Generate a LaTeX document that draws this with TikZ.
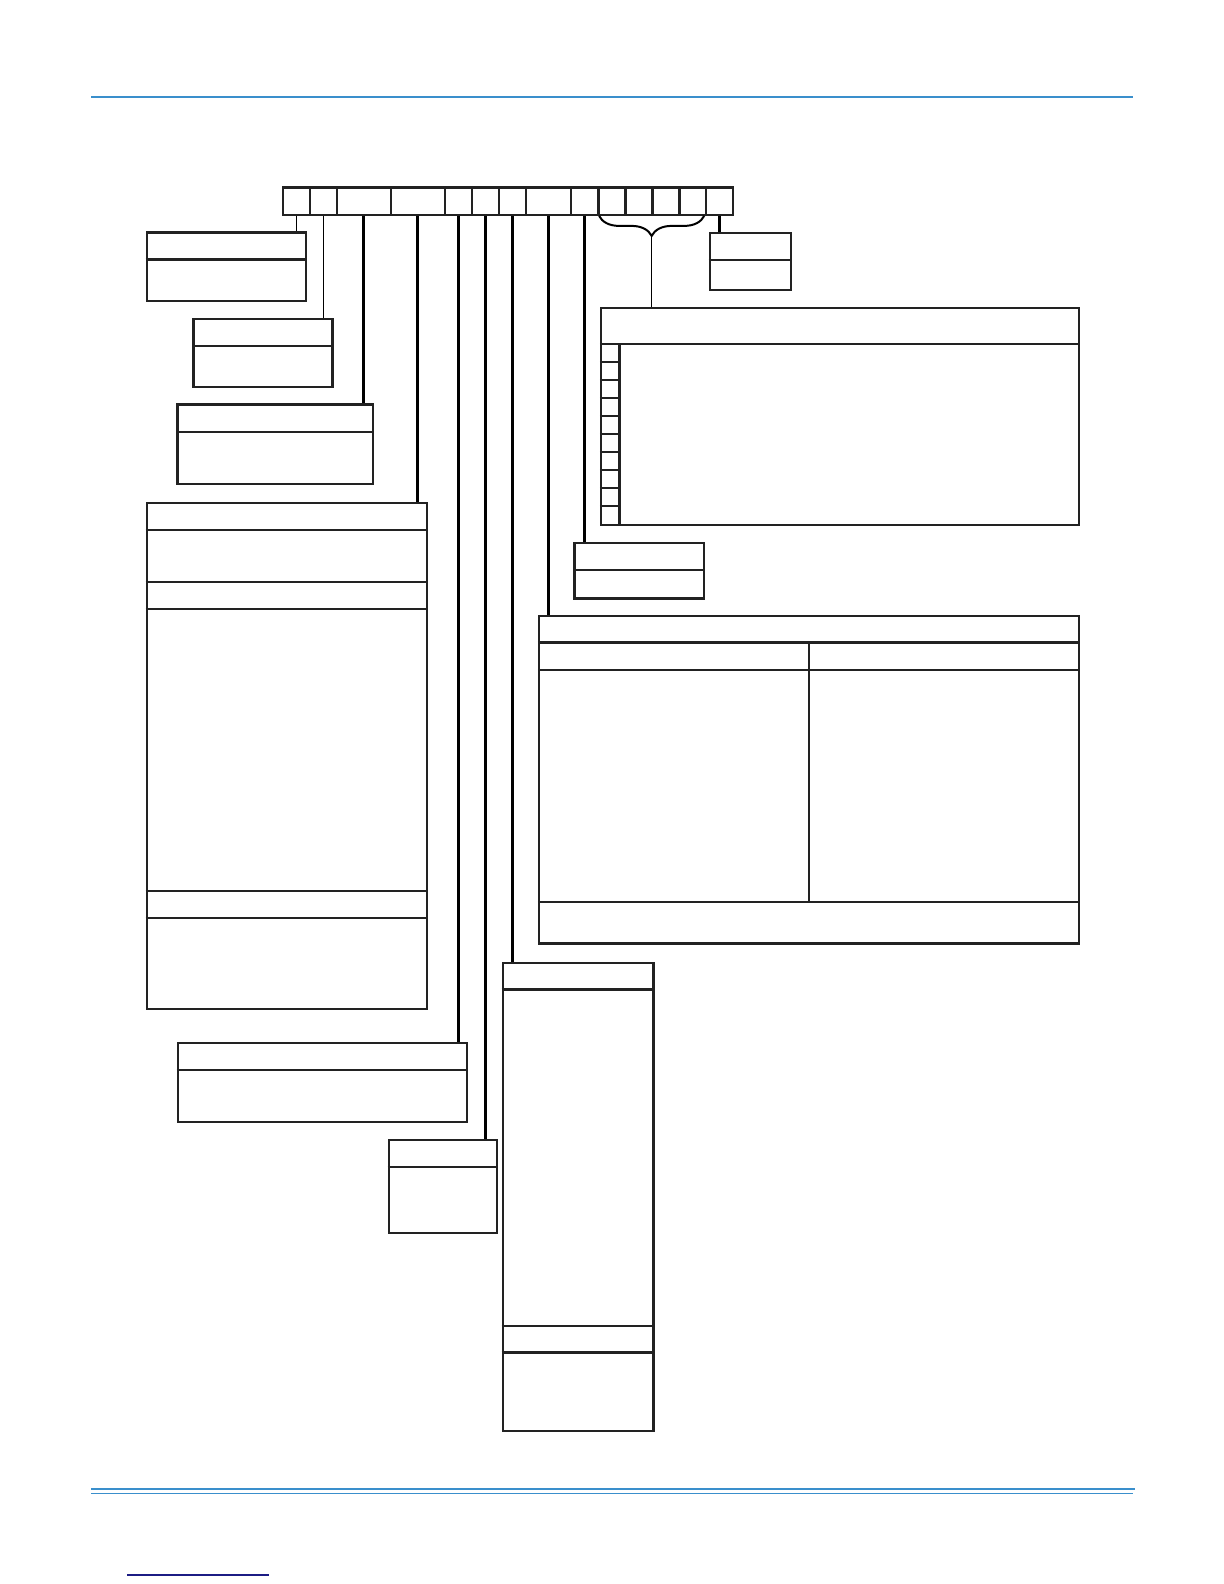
\documentclass[tikz,border=0pt]{standalone}
\usetikzlibrary{fit,calc,decorations.pathreplacing}
\definecolor{rulecol}{HTML}{3A8FCC}
\definecolor{linkcol}{HTML}{1C1C84}
\definecolor{inkcol}{HTML}{222222}
\tikzset{
	box/.style={draw=inkcol, line width=1.2pt, inner sep=0pt},
	cell/.style={draw=inkcol, line width=1.2pt, inner sep=0pt},
	divline/.style={draw=inkcol, line width=1.2pt},
	lead/.style={draw=black, line width=1.5pt},
	thinlead/.style={draw=black, line width=0.8pt}
}
\newcommand{\hdiv}[2]{\draw[divline] (#1.west |- 0,#2) -- (#1.east |- 0,#2);}
\begin{document}
\begin{tikzpicture}[x=0.5pt,y=-0.5pt]
		\useasboundingbox (0,0) rectangle (1224,1584);
		%page rules
		\draw[rulecol, line width=0.75pt] (91,97) -- (1133,97);
		\draw[rulecol, line width=1pt] (91,1488.5) -- (1135,1488.5);
		\draw[rulecol, line width=0.5pt] (91,1493.5) -- (1133,1493.5);
		\draw[linkcol, line width=0.6pt] (127,1575) -- (269,1575);
		%code cells
		\foreach \a/\b [count=\i] in {282.7/310,310/336.7,336.7/390.7,390.7/445,
			445/471.7,471.7/499,499/526,526/571,571/598.3,598.3/625.3,
			625.3/652.3,652.3/679.3,679.3/706,706/732.7}
		\node[cell, fit={(\a,187.3) (\b,214.7)}] (c\i) {};
		%boxes
		\node[box, fit={(146.7,232.3) (305.7,300.7)}] (bA) {};
		\hdiv{bA}{259.3}
		\node[box, fit={(193.3,318.7) (332.3,386.7)}] (bB) {};
		\hdiv{bB}{346}
		\node[box, fit={(177.3,404.3) (373,484)}] (bC) {};
		\hdiv{bC}{431.7}
		\node[box, fit={(146.7,502.7) (426.7,1009)}] (bD) {};
		\foreach \y in {530,582,608.7,891,917.7}
		\hdiv{bD}{\y}
		\node[box, fit={(177.8,1043) (466.7,1122)}] (bE) {};
		\hdiv{bE}{1070}
		\node[box, fit={(388.7,1140) (497,1232.7)}] (bF) {};
		\hdiv{bF}{1166.7}
		\node[box, fit={(502.7,962.7) (653.3,1431)}] (bG) {};
		\foreach \y in {989.3,1325.7,1352.3}
		\hdiv{bG}{\y}
		\node[box, fit={(539,616) (1078.7,943.5)}] (bH) {};
		\foreach \y in {642.5,669.8,902}
		\hdiv{bH}{\y}
		\draw[divline] (809,642.5) -- (809,902);
		\node[box, fit={(574.3,542.7) (704,598.3)}] (bI) {};
		\hdiv{bI}{570}
		\node[box, fit={(601,308) (1078.7,524.7)}] (bJ) {};
		\hdiv{bJ}{343.7}
		\draw[divline] (619.3,343.7) -- (619.3,524.7);
		\foreach \y in {361.7,380,398,416,434,452,470,488,506}
		\draw[divline] (bJ.west |- 0,\y) -- (619.3,\y);
		\node[box, fit={(709.7,232.7) (791,290)}] (bK) {};
		\hdiv{bK}{260}
		%leads
		\draw[thinlead] (c1.south) -- (c1.south |- bA.north);
		\draw[thinlead] (c2.south) -- (c2.south |- bB.north);
		\draw[lead] (c3.south) -- (c3.south |- bC.north);
		\draw[lead] (c4.south) -- (c4.south |- bD.north);
		\draw[lead] (c5.south) -- (c5.south |- bE.north);
		\draw[lead] (c6.south) -- (c6.south |- bF.north);
		\draw[lead] (c7.south) -- (c7.south |- bG.north);
		\draw[lead] (c8.south) -- (c8.south |- bH.north);
		\draw[lead] (c9.south) -- (c9.south |- bI.north);
		\draw[lead] (c14.south) -- (c14.south |- bK.north);
		%brace
		\path (c10.south west) ++(2,0) coordinate (brL);
		\path (c13.south east) ++(-3,0) coordinate (brR);
		\draw[thinlead, line width=1pt, decorate, decoration={brace, mirror, amplitude=10pt}] (brL) -- (brR);
		\coordinate (brT) at ($(brL)!0.5!(brR)+(0,20)$);
		\draw[thinlead] (brT) -- (brT |- bJ.north);
\end{tikzpicture}
\end{document}
